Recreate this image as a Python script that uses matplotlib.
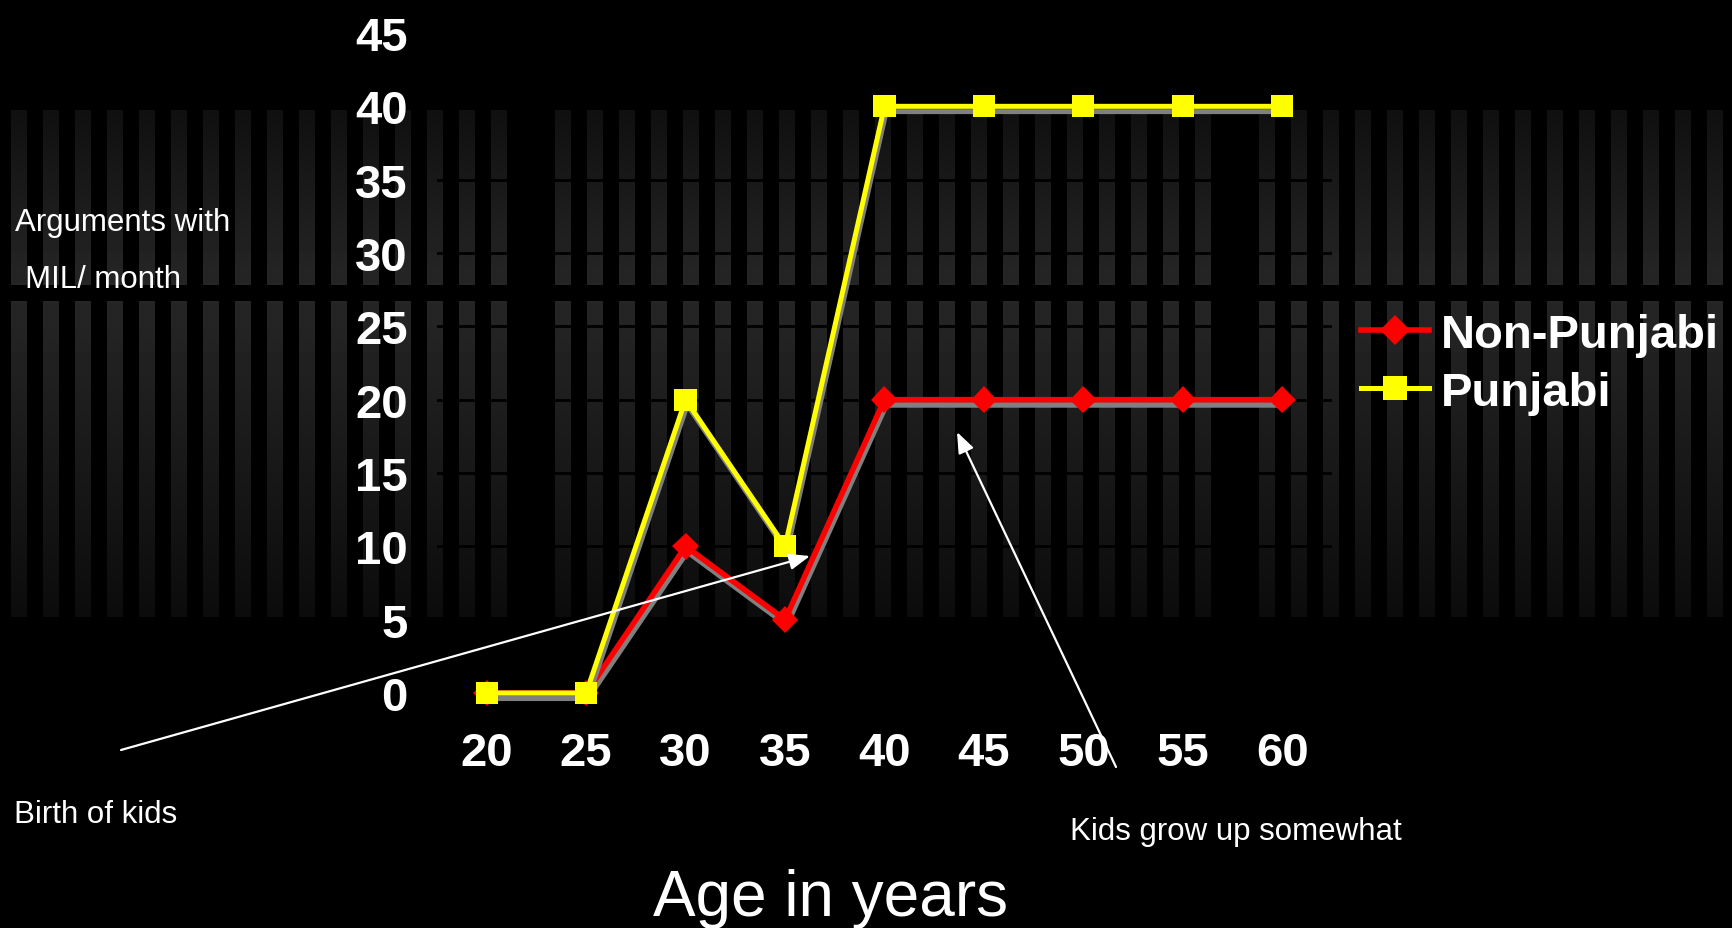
import numpy as np
import matplotlib
matplotlib.use("Agg")
import matplotlib.pyplot as plt
from matplotlib.lines import Line2D
import matplotlib.patheffects as pe

# ---- data ----
ages = [20, 25, 30, 35, 40, 45, 50, 55, 60]
non_punjabi = [0, 0, 10, 5, 20, 20, 20, 20, 20]
punjabi = [0, 0, 20, 10, 40, 40, 40, 40, 40]
y_ticks = [0, 5, 10, 15, 20, 25, 30, 35, 40, 45]
series_names = ["Non-Punjabi", "Punjabi"]

plt.rcParams['font.family'] = ['Liberation Sans', 'DejaVu Sans']

W, H = 1733, 929
fig = plt.figure(figsize=(W / 100, H / 100), dpi=100, facecolor='black')

# ---- decorative striped background ----
bg = np.zeros((H, W))
top0, top1 = 111, 286
low0, low1 = 302, 618
for k in range(54):
    if k in (16, 38):
        continue
    x0 = 11 + 32 * k
    x1 = min(x0 + 16, W)
    bg[top0:top1, x0:x1] = np.linspace(0x10, 0x26, top1 - top0)[:, None]
    bg[low0:low1, x0:x1] = np.linspace(0x26, 0x0c, low1 - low0)[:, None]
bax = fig.add_axes([0, 0, 1, 1], zorder=0)
bax.imshow(bg / 255.0, cmap='gray', vmin=0, vmax=1, aspect='auto',
           interpolation='nearest', extent=(0, W, H, 0))
bax.set_xlim(0, W)
bax.set_ylim(H, 0)
bax.axis('off')

# ---- main axes ----
ax = fig.add_axes([437 / W, 1 - 694 / H, 895 / W, (694 - 34) / H], zorder=1)
ax.set_facecolor('none')
ax.set_xlim(17.5, 62.5)
ax.set_ylim(0, 45)
ax.set_xticks(ages)
ax.set_xticklabels([str(a) for a in ages])
ax.set_yticks(y_ticks)
ax.set_yticklabels([str(v) for v in y_ticks])
ax.yaxis.grid(True, color='black', linewidth=2.0)
ax.set_axisbelow(True)
for s in ax.spines.values():
    s.set_visible(False)
ax.tick_params(axis='both', length=0, colors='white', labelsize=34)
ax.tick_params(axis='y', pad=21)
ax.tick_params(axis='x', pad=27)
for lbl in ax.get_xticklabels() + ax.get_yticklabels():
    lbl.set_fontweight('bold')

shadow = [pe.SimpleLineShadow(offset=(1.2, -3.8), shadow_color='#808080', alpha=1.0),
          pe.Normal()]
ax.plot(ages, non_punjabi, color='#FF0000', linewidth=4.0, marker='D', markersize=13.5,
        markeredgewidth=0, path_effects=shadow, zorder=3, clip_on=False)
ax.plot(ages, punjabi, color='#FFFF00', linewidth=3.6, marker='s', markersize=16,
        markeredgewidth=0, path_effects=shadow, zorder=4, clip_on=False)

# ---- legend ----
handles = [Line2D([], [], color='#FF0000', linewidth=4.0, marker='D', markersize=15, markeredgewidth=0),
           Line2D([], [], color='#FFFF00', linewidth=3.6, marker='s', markersize=17, markeredgewidth=0)]
leg = fig.legend(handles, series_names, loc='upper left',
                 bbox_to_anchor=(1361 / W, 1 - 314 / H), frameon=False,
                 prop={'size': 34, 'weight': 'bold'}, handlelength=1.45,
                 handletextpad=0.25, labelspacing=0.29, borderpad=0, borderaxespad=0)
for t in leg.get_texts():
    t.set_color('white')

# ---- texts ----
def fx(px):
    return px / W

def fy(py):
    return 1 - py / H

fig.text(fx(15), fy(231), "Arguments with", color='white', fontsize=22.5,
         ha='left', va='baseline')
fig.text(fx(25), fy(288), "MIL/ month", color='white', fontsize=22.5,
         ha='left', va='baseline')
fig.text(fx(14), fy(823), "Birth of kids", color='white', fontsize=22.5,
         ha='left', va='baseline')
fig.text(fx(1070), fy(840), "Kids grow up somewhat", color='white', fontsize=22.5,
         ha='left', va='baseline')
fig.text(fx(831), fy(916), "Age in years", color='white', fontsize=46,
         ha='center', va='baseline')

# ---- arrows (overlay above the chart) ----
tax = fig.add_axes([0, 0, 1, 1], zorder=10)
tax.set_xlim(0, W)
tax.set_ylim(H, 0)
tax.axis('off')
tax.patch.set_alpha(0)
arrow_kw = dict(arrowstyle='-|>,head_length=0.9,head_width=0.35', color='white',
                linewidth=1.6, shrinkA=0, shrinkB=0, mutation_scale=14)
tax.annotate("", xy=(810, 557), xytext=(121, 751), xycoords='data',
             arrowprops=arrow_kw)
tax.annotate("", xy=(957, 433), xytext=(1116, 768), xycoords='data',
             arrowprops=arrow_kw)

fig.savefig("out.png", dpi=100, facecolor='black')
